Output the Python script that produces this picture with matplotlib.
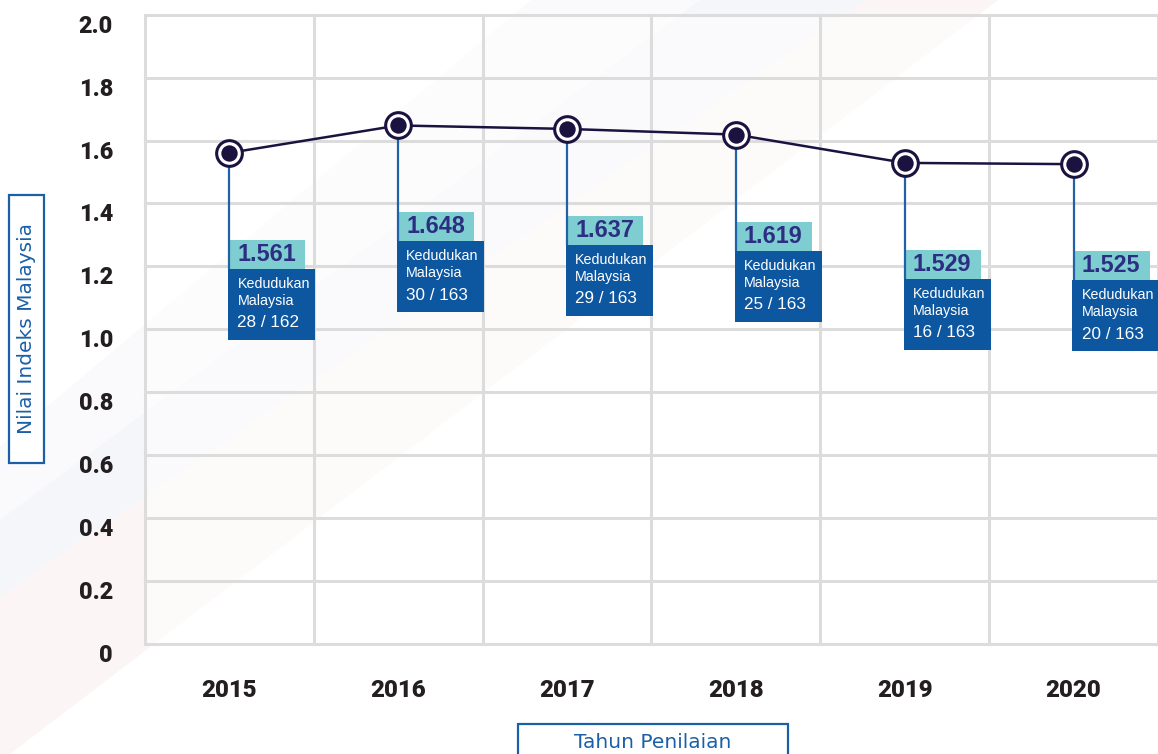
import matplotlib
matplotlib.use('Agg')
import matplotlib.pyplot as plt
from matplotlib.patches import Rectangle, Polygon
from matplotlib.transforms import ScaledTranslation

# ---- data ----
years = ['2015', '2016', '2017', '2018', '2019', '2020']
values = [1.561, 1.648, 1.637, 1.619, 1.529, 1.525]
ranks = ['28 / 162', '30 / 163', '29 / 163', '25 / 163', '16 / 163', '20 / 163']
yticks = [0, 0.2, 0.4, 0.6, 0.8, 1.0, 1.2, 1.4, 1.6, 1.8, 2.0]
ytick_labels = ['0', '0.2', '0.4', '0.6', '0.8', '1.0', '1.2', '1.4', '1.6', '1.8', '2.0']
ylabel = 'Nilai Indeks Malaysia'
xlabel = 'Tahun Penilaian'

# ---- style ----
NAVY = '#1b1240'
STEM = '#1f62a8'
BOXBLUE = '#0d56a0'
TEAL = '#7ecdd0'
VALCOL = '#2c2e82'
GRID = '#dcdcdc'
LABBLUE = '#1a5fa8'
TICKCOL = '#231f20'

W, H = 1158, 754
fig = plt.figure(figsize=(W / 100, H / 100), dpi=100)

# background diagonal bands (very faint)
bg = fig.add_axes([0, 0, 1, 1], zorder=-5)
bg.set_xlim(0, W)
bg.set_ylim(H, 0)
bg.axis('off')
bg.add_patch(Polygon([(0, 446), (531, 0), (700, 0), (0, 520)], closed=True,
                     facecolor='#fafafc', edgecolor='none'))
bg.add_patch(Polygon([(0, 520), (700, 0), (865, 0), (0, 597)], closed=True,
                     facecolor='#f5f6f9', edgecolor='none'))
bg.add_patch(Polygon([(0, 597), (865, 0), (998, 0), (10, 754), (0, 754)], closed=True,
                     facecolor='#fcf5f5', edgecolor='none'))

ax_w, ax_h = 1013, 629.3
ax = fig.add_axes([145 / W, 110 / H, ax_w / W, ax_h / H])
ax.set_facecolor((1, 1, 1, 0.5))
ax.set_xlim(-0.5, len(years) - 0.5)
ax.set_ylim(0, 2.0)
for s in ax.spines.values():
    s.set_visible(False)

x = list(range(len(years)))
ax.set_xticks(x)
ax.set_xticklabels(years)
ax.set_yticks(yticks)
ax.set_yticklabels(ytick_labels)

# grid lines (cell boundaries between years, and y ticks)
for b in [i - 0.5 for i in range(len(years) + 1)]:
    ax.axvline(b, color=GRID, lw=2.2, zorder=0, clip_on=False)
for t in yticks:
    ax.axhline(t, color=GRID, lw=2.2, zorder=0, clip_on=False)

ax.tick_params(axis='both', which='both', length=0)
ax.tick_params(axis='y', pad=23)
ax.tick_params(axis='x', pad=25)
for lab in ax.get_yticklabels():
    lab.set_fontfamily('Roboto')
    lab.set_fontweight('black')
    lab.set_fontsize(16.8)
    lab.set_color(TICKCOL)
    lab.set_transform(lab.get_transform() + ScaledTranslation(0, -9 / 100, fig.dpi_scale_trans))
for lab in ax.get_xticklabels():
    lab.set_fontfamily('Roboto')
    lab.set_fontweight('black')
    lab.set_fontsize(17.3)
    lab.set_color(TICKCOL)

# pixel -> data conversion from axes scale
sx = (len(years)) / ax_w
sy = 2.0 / ax_h

# line and markers
ax.plot(x, values, color=NAVY, lw=1.8, zorder=5)
ax.plot(x, values, 'o', ms=18.5, mfc='white', mec=NAVY, mew=2.2, zorder=7)
ax.plot(x, values, 'o', ms=11.8, mfc=NAVY, mec='none', zorder=8)

for i, (v, r) in enumerate(zip(values, ranks)):
    ax.plot([i, i], [v, v - 116 * sy], color=STEM, lw=1.6, zorder=6,
            solid_capstyle='butt', clip_on=False)
    ax.add_patch(Rectangle((i, v - 116 * sy), 76 * sx, 29 * sy, facecolor=TEAL,
                           edgecolor='none', zorder=4, clip_on=False))
    ax.add_patch(Rectangle((i - 1.2 * sx, v - 187 * sy), 87 * sx, 71 * sy,
                           facecolor=BOXBLUE, edgecolor='none', zorder=6, clip_on=False))
    ax.text(i + 8 * sx, v - 101.5 * sy, f'{v:.3f}', ha='left', va='center',
            fontfamily='Liberation Sans', fontweight='bold', fontsize=16.8,
            color=VALCOL, zorder=9, clip_on=False)
    ax.text(i + 8 * sx, v - 131 * sy, 'Kedudukan', ha='left', va='center',
            fontfamily='Liberation Sans', fontsize=10.3, color='white', zorder=9, clip_on=False)
    ax.text(i + 8 * sx, v - 148 * sy, 'Malaysia', ha='left', va='center',
            fontfamily='Liberation Sans', fontsize=10.3, color='white', zorder=9, clip_on=False)
    ax.text(i + 8 * sx, v - 170 * sy, r, ha='left', va='center',
            fontfamily='Liberation Sans', fontsize=12.3, color='white', zorder=9, clip_on=False)

# axis label boxes
fig.patches.append(Rectangle((9 / W, (H - 463) / H), 35 / W, 268 / H, transform=fig.transFigure,
                             facecolor='white', edgecolor=LABBLUE, lw=1.6, zorder=1))
fig.text(26.5 / W, 1 - 329 / H, ylabel, rotation=90, ha='center', va='center',
         color=LABBLUE, fontsize=14.5, fontfamily='DejaVu Sans', zorder=2)
fig.patches.append(Rectangle((518 / W, -10 / H), 270 / W, 40 / H, transform=fig.transFigure,
                             facecolor='white', edgecolor=LABBLUE, lw=1.6, zorder=1))
fig.text(653 / W, (H - 742) / H, xlabel, ha='center', va='center',
         color=LABBLUE, fontsize=14.5, fontfamily='DejaVu Sans', zorder=2)

fig.savefig('out.png', dpi=100)
